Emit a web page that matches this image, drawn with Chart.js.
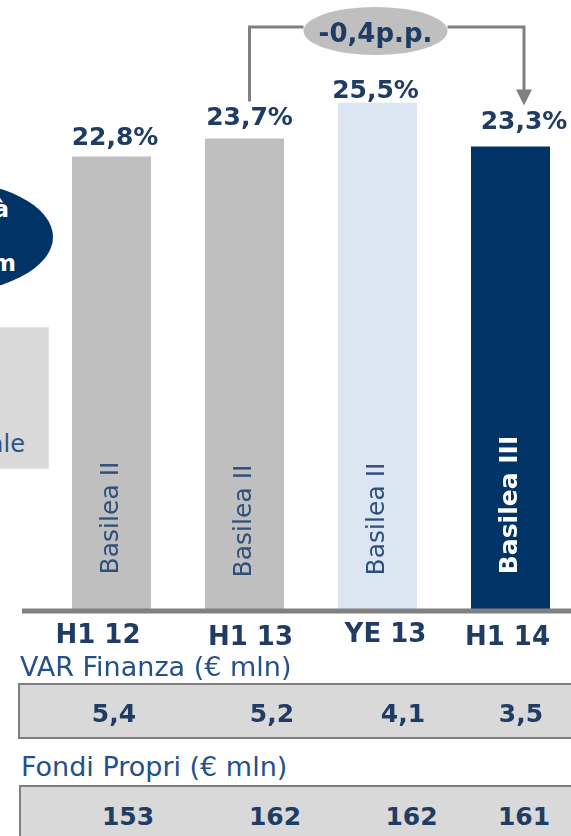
<!DOCTYPE html>
<html>
<head>
<meta charset="utf-8">
<script src="https://cdn.jsdelivr.net/npm/chart.js@4"></script>
<style>
  html, body { margin: 0; padding: 0; background: #fff; }
  body { width: 571px; height: 836px; position: relative; overflow: hidden; font-family: "DejaVu Sans", sans-serif; }
  #chart { position: absolute; left: 0; top: 0; }
  .abs { position: absolute; white-space: nowrap; }
  .oval { position: absolute; left: -173px; top: 180px; width: 226px; height: 114px; border-radius: 50%; background: #003366; }
  .side { position: absolute; left: -10px; top: 327px; width: 57px; height: 140px; background: #d9d9d9; border: 1px solid #e4e4e4; }
  .title { font-size: 27px; line-height: 27px; color: #24518a; }
  .box { position: absolute; width: 600px; background: #d9d9d9; border: 2px solid #7f7f7f; box-sizing: border-box; }
  .val { font-size: 25px; line-height: 25px; font-weight: bold; color: #1f3c64; transform: translateX(-50%); }
</style>
</head>
<body>
<div class="oval"></div>
<div class="abs" style="left:9px;top:198px;transform:translateX(-100%);font:bold 23px/23px 'DejaVu Sans';color:#fff">à</div>
<div class="abs" style="left:16px;top:252px;transform:translateX(-100%);font:bold 23px/23px 'DejaVu Sans';color:#fff">m</div>
<div class="side"></div>
<div class="abs" style="left:25px;top:432px;transform:translateX(-100%);font:24px/24px 'DejaVu Sans';color:#2f5585">ale</div>

<canvas id="chart" width="620" height="660" style="width:620px;height:660px"></canvas>

<div class="abs title" style="left:20px;top:653px">VAR Finanza (€ mln)</div>
<div class="box" style="left:18px;top:683px;height:56px"></div>
<div class="abs title" style="left:21px;top:753px">Fondi Propri (€ mln)</div>
<div class="box" style="left:19px;top:785px;height:80px"></div>
<div id="rows"></div>

<script>
// dati
const categories = ['H1 12', 'H1 13', 'YE 13', 'H1 14'];
const ratioValues = [22.8, 23.7, 25.5, 23.3];
const regimeLabels = ['Basilea II', 'Basilea II', 'Basilea II', 'Basilea III'];
const varFinanza = [5.4, 5.2, 4.1, 3.5];
const fondiPropri = [153, 162, 162, 161];
const deltaLabel = '-0,4p.p.';

const barColors = ['#bfbfbf', '#bfbfbf', '#dce6f2', '#003366'];
const navy = '#1f3c64';
const fmt = v => v.toFixed(1).replace('.', ',');

// piccoli aggiustamenti come nella slide originale
const labelShift = [3.5, 5, -2, 13.5];
const labelGap = [11, 14, 5, 17];
const catShift = [-13.5, 6, 8, -3];
const catBase = [643, 645, 642, 645];
const regimeLift = [91, 88, 90, 104];

// righe sotto il grafico
const rowsEl = document.getElementById('rows');
function addRow(values, xs, top, format) {
    values.forEach((v, i) => {
        const d = document.createElement('div');
        d.className = 'abs val';
        d.style.left = xs[i] + 'px';
        d.style.top = top + 'px';
        d.textContent = format(v);
        rowsEl.appendChild(d);
    });
}
addRow(varFinanza, [114, 272, 403, 521], 701, fmt);
addRow(fondiPropri, [128, 275, 411.5, 524], 804, v => String(v));

function labelPos(chart, i) {
    const bar = chart.getDatasetMeta(0).data[i];
    return { x: bar.x + labelShift[i], y: bar.y - labelGap[i] };
}

const decorPlugin = {
    id: 'decor',
    afterDatasetsDraw(chart) {
        const ctx = chart.ctx;
        const xs = chart.scales.x;
        const ys = chart.scales.y;
        const meta = chart.getDatasetMeta(0);
        const base = ys.getPixelForValue(0);
        ctx.save();

        // testo verticale nelle barre
        meta.data.forEach((bar, i) => {
            const last = i === meta.data.length - 1;
            ctx.save();
            ctx.translate(bar.x, base - regimeLift[i]);
            ctx.rotate(-Math.PI / 2);
            ctx.font = (last ? 'bold ' : '') + '25px "DejaVu Sans"';
            ctx.fillStyle = last ? '#ffffff' : '#2e4f7a';
            ctx.textAlign = 'center';
            ctx.textBaseline = 'middle';
            ctx.fillText(regimeLabels[i], 0, 0);
            ctx.restore();
        });

        // linea di base
        ctx.strokeStyle = '#808080';
        ctx.lineWidth = 5;
        ctx.beginPath();
        ctx.moveTo(22, base + 2);
        ctx.lineTo(chart.width, base + 2);
        ctx.stroke();

        // etichette valori
        ctx.font = 'bold 25px "DejaVu Sans"';
        ctx.fillStyle = navy;
        ctx.textAlign = 'center';
        ctx.textBaseline = 'alphabetic';
        ratioValues.forEach((v, i) => {
            const p = labelPos(chart, i);
            ctx.fillText(fmt(v) + '%', p.x, p.y);
        });

        // categorie
        ctx.font = 'bold 26px "DejaVu Sans"';
        categories.forEach((c, i) => {
            ctx.fillText(c, xs.getPixelForValue(i) + catShift[i], catBase[i]);
        });

        // freccia di confronto H1 13 -> H1 14
        const a = labelPos(chart, 1);
        const b = labelPos(chart, 3);
        const topY = 27;
        const pillX = labelPos(chart, 2).x;
        const rx = 72, ry = 24;
        ctx.strokeStyle = '#808080';
        ctx.lineWidth = 3;
        ctx.beginPath();
        ctx.moveTo(a.x, a.y - 23);
        ctx.lineTo(a.x, topY);
        ctx.lineTo(pillX - rx, topY);
        ctx.moveTo(pillX + rx, topY);
        ctx.lineTo(b.x, topY);
        ctx.lineTo(b.x, b.y - 39);
        ctx.stroke();
        ctx.fillStyle = '#808080';
        ctx.beginPath();
        ctx.moveTo(b.x - 8, b.y - 40);
        ctx.lineTo(b.x + 8, b.y - 40);
        ctx.lineTo(b.x, b.y - 24);
        ctx.closePath();
        ctx.fill();

        ctx.fillStyle = '#bfbfbf';
        ctx.beginPath();
        ctx.ellipse(pillX, 31, rx, ry, 0, 0, Math.PI * 2);
        ctx.fill();
        ctx.fillStyle = navy;
        ctx.font = 'bold 26px "DejaVu Sans"';
        ctx.fillText(deltaLabel, pillX, 42);

        ctx.restore();
    }
};

const ctx = document.getElementById('chart').getContext('2d');
new Chart(ctx, {
    type: 'bar',
    data: {
        labels: categories,
        datasets: [{
            data: ratioValues,
            backgroundColor: barColors,
            borderWidth: 0,
            barPercentage: 0.594,
            categoryPercentage: 1
        }]
    },
    options: {
        responsive: false,
        animation: false,
        layout: { padding: { left: 45, right: 43, top: 13.5, bottom: 51 } },
        plugins: {
            legend: { display: false },
            tooltip: { enabled: false }
        },
        scales: {
            x: { display: false },
            y: { display: false, min: 0, max: 30 }
        }
    },
    plugins: [decorPlugin]
});
</script>
</body>
</html>
